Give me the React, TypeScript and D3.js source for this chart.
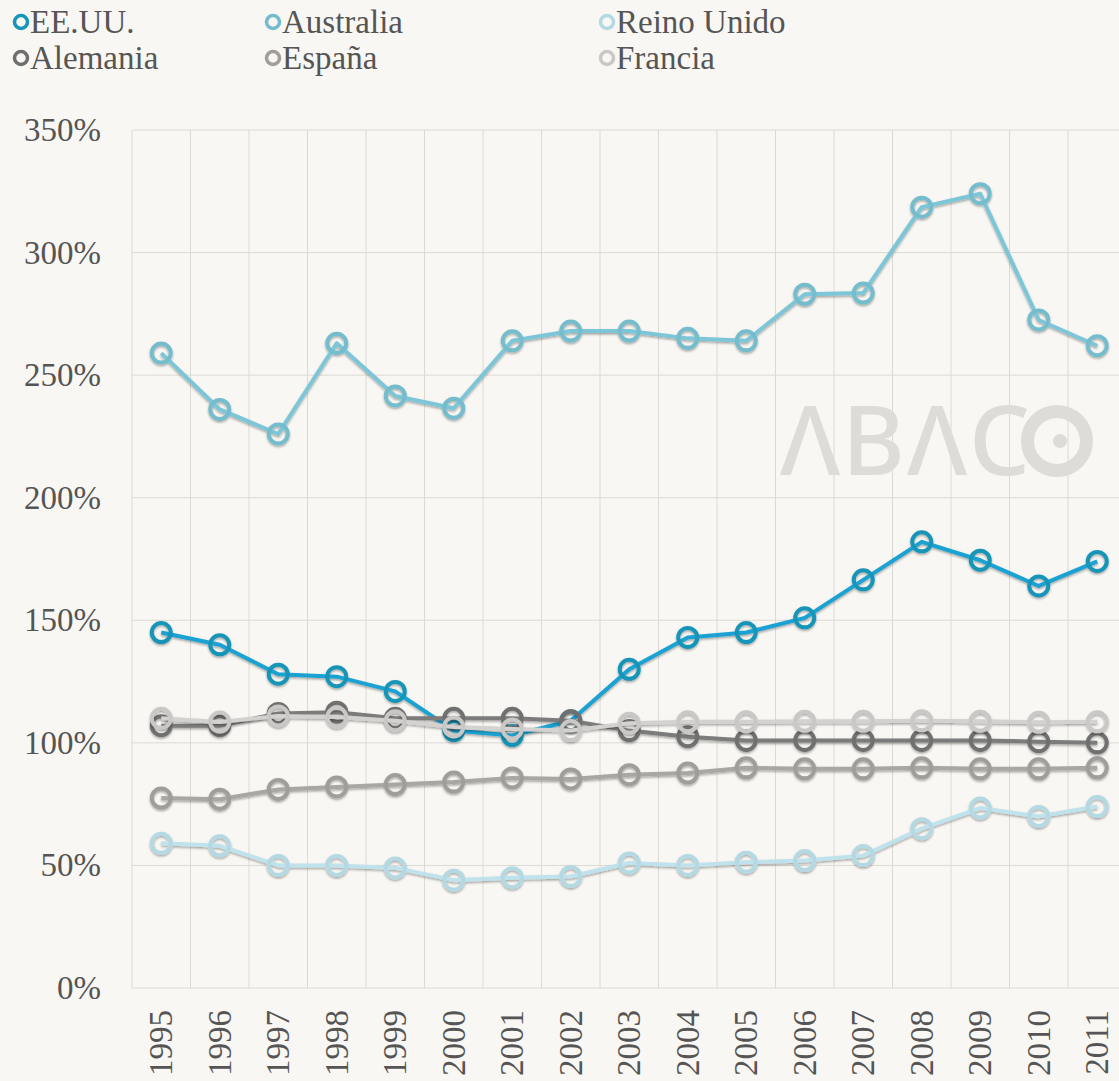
import React from "react";
import * as d3 from "d3";

const years = [1995,1996,1997,1998,1999,2000,2001,2002,2003,2004,2005,2006,2007,2008,2009,2010,2011];
const yTicks = [0,50,100,150,200,250,300,350];

const eeuu = [145,140,128,127,121,105,103,109,130,143,145,151,166.5,182,174.5,164,174];
const australia = [259,236,226,263,241.5,236.5,264,268,268,265,264,283,283.5,318.5,324,272.5,262];
const reinoUnido = [59,58,50,50,49,44,45,45.5,51,50,51.3,52,54,65,73.4,70,74];
const alemania = [107,107,112,112.5,110,110,110,109,105,102.5,101,101,101,101,101,100.5,100];
const espana = [77.5,77,81,82,83,84,85.7,85.3,87,87.7,89.8,89.4,89.4,89.8,89.4,89.4,89.8];
const francia = [110,108.5,111,110.5,109,106.5,105.7,105,108,108.6,108.6,108.8,108.8,109,108.8,108.4,108.6];

const seriesNames = ["EE.UU.","Australia","Reino Unido","Alemania","España","Francia"];
const seriesValues = [eeuu, australia, reinoUnido, alemania, espana, francia];
const lineColors = ["#1ba2d2","#7cc6d8","#bfe2ec","#7b7b7b","#aaa6a3","#d3d2d0"];
const ringColors = ["#1795b8","#74bccd","#b4d9e3","#6f6f6f","#a19d9a","#c9c8c6"];
const drawOrder = [2,4,1,0,3,5];

const W = 1119, H = 1081;
const left = 132, top = 130, bottom = 988;
const step = 58.5;

export default function App() {
  const x = d3.scaleBand<number>().domain(years).range([left, left + step * years.length]).padding(0);
  const cx = (yr: number) => (x(yr) as number) + x.bandwidth() / 2;
  const y = d3.scaleLinear().domain([0, 350]).range([bottom, top]);
  const line = d3.line<number>().x((_, i) => cx(years[i])).y(d => y(d));
  const serif = "'Liberation Serif', 'Times New Roman', serif";
  const fs = 33;
  const legendCols = [21, 273, 607];
  const legendRows = [22, 58];

  return (
    <svg width={W} height={H} style={{ position: "absolute", left: 0, top: 0, background: "#f8f7f3" }}>
      <defs>
        <filter id="sh" x="-5%" y="-20%" width="110%" height="140%">
          <feDropShadow dx="0" dy="1.5" stdDeviation="1.2" floodColor="#000" floodOpacity="0.35" />
        </filter>
      </defs>
      <rect x={0} y={0} width={W} height={H} fill="#f8f7f3" />
      {/* legend */}
      {seriesNames.map((n, i) => {
        const col = i % 3, row = Math.floor(i / 3);
        const lx = legendCols[col], ly = legendRows[row];
        return (
          <g key={n}>
            <circle cx={lx} cy={ly} r={6.5} fill="none" stroke={ringColors[i]} strokeWidth={3.5} />
            <text x={lx + 9} y={ly + 11} fontFamily={serif} fontSize={fs} fill="#555">{n}</text>
          </g>
        );
      })}
      {/* gridlines */}
      {yTicks.map(t => (
        <line key={"h" + t} x1={left} x2={W} y1={y(t)} y2={y(t)} stroke="#dcdad5" strokeWidth={1} />
      ))}
      {years.map(yr => (
        <line key={"v" + yr} x1={x(yr) as number} x2={x(yr) as number} y1={top} y2={bottom} stroke="#dcdad5" strokeWidth={1} />
      ))}
      {/* watermark */}
      <text x={780} y={475} textLength={250} lengthAdjust="spacing" fill="#dedcd8" fontFamily="'Noto Sans', sans-serif" fontWeight={500} fontSize={96}>ΛBΛC</text>
      <circle cx={1057} cy={441} r={29.5} fill="none" stroke="#dedcd8" strokeWidth={13} />
      <circle cx={1060} cy={441} r={7} fill="#dedcd8" />
      {/* y labels */}
      {yTicks.map(t => (
        <text key={"yl" + t} x={101} y={y(t) + 11} textAnchor="end" fontFamily={serif} fontSize={fs} fill="#555">{t}%</text>
      ))}
      {/* axis */}
      <line x1={left} x2={W} y1={bottom} y2={bottom} stroke="#8a7e7b" strokeWidth={3.5} filter="url(#sh)" />
      {/* x labels */}
      {years.map(yr => (
        <text key={"xl" + yr} transform={`translate(${cx(yr) + 11},1010) rotate(-90)`} textAnchor="end" fontFamily={serif} fontSize={fs} fill="#555">{yr}</text>
      ))}
      {/* series */}
      {drawOrder.map(i => (
        <g key={seriesNames[i]} filter="url(#sh)">
          <path d={line(seriesValues[i]) as string} fill="none" stroke={lineColors[i]} strokeWidth={4} strokeLinejoin="round" />
          {seriesValues[i].map((v, j) => (
            <circle key={j} cx={cx(years[j])} cy={y(v)} r={9.5} fill="none" stroke={ringColors[i]} strokeWidth={4} />
          ))}
        </g>
      ))}
    </svg>
  );
}
